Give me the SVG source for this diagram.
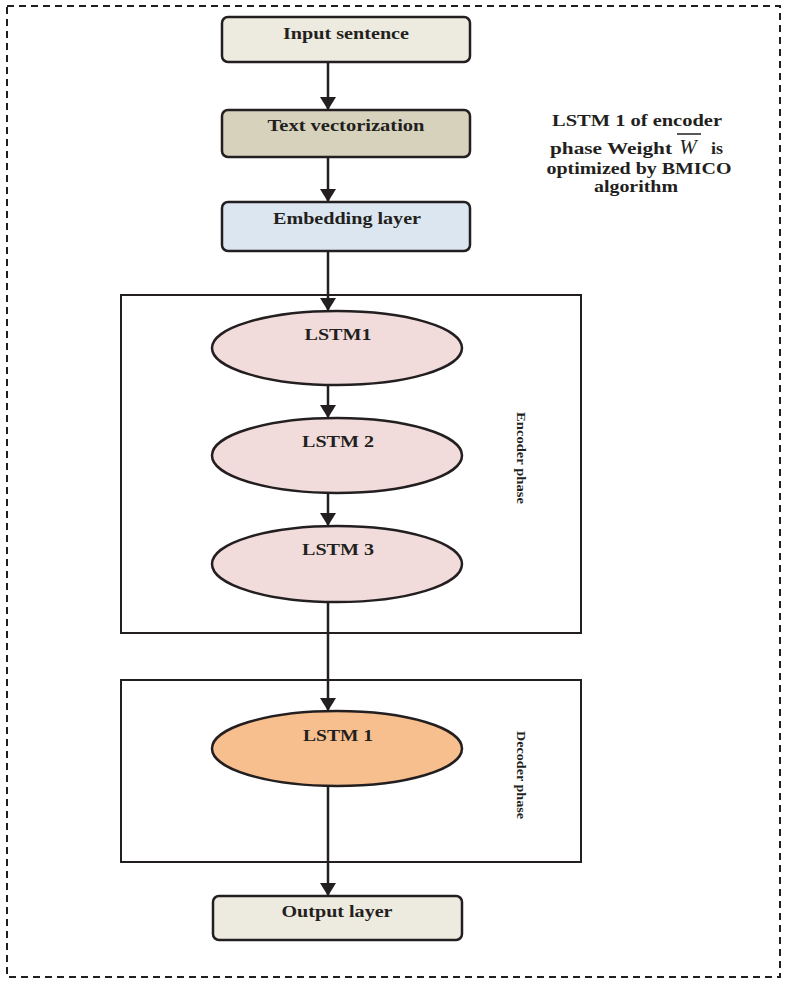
<svg xmlns="http://www.w3.org/2000/svg" width="785" height="983" viewBox="0 0 785 983">
<style>
.t{font-family:"Liberation Serif","Times New Roman",serif;font-weight:bold;font-size:16px;fill:#231f20;text-anchor:middle}
.box{stroke:#231f20;stroke-width:2.5}
.frame{fill:none;stroke:#231f20;stroke-width:2}
.ln{stroke:#231f20;stroke-width:2.5;fill:none}
.rot{font-family:"Liberation Serif","Times New Roman",serif;font-weight:bold;font-size:12px;fill:#231f20}
</style>
<defs>
<marker id="arr" viewBox="0 0 13 16" refX="13" refY="8" markerWidth="13" markerHeight="16" markerUnits="userSpaceOnUse" orient="auto">
<path d="M0,0 L13,8 L0,16 z" fill="#231f20"/>
</marker>
</defs>
<rect x="7" y="6" width="773" height="971" fill="none" stroke="#231f20" stroke-width="2" stroke-dasharray="7,5"/>
<g id="encoder-frame"><rect class="frame" x="121" y="295" width="460" height="338"/><text class="rot" transform="translate(517,412) rotate(90)" textLength="92" lengthAdjust="spacingAndGlyphs">Encoder phase</text></g>
<g id="decoder-frame"><rect class="frame" x="121" y="680" width="460" height="182"/><text class="rot" transform="translate(517,731) rotate(90)" textLength="88" lengthAdjust="spacingAndGlyphs">Decoder phase</text></g>
<g id="connectors">
<line class="ln" x1="328" y1="62" x2="328" y2="110" marker-end="url(#arr)"/>
<line class="ln" x1="328" y1="157" x2="328" y2="202" marker-end="url(#arr)"/>
<line class="ln" x1="328" y1="251" x2="328" y2="311" marker-end="url(#arr)"/>
<line class="ln" x1="328" y1="385" x2="328" y2="418" marker-end="url(#arr)"/>
<line class="ln" x1="328" y1="493" x2="328" y2="526" marker-end="url(#arr)"/>
<line class="ln" x1="328" y1="602" x2="328" y2="711" marker-end="url(#arr)"/>
<line class="ln" x1="328" y1="786" x2="328" y2="896" marker-end="url(#arr)"/>
</g>
<g id="input"><rect class="box" x="222" y="17" width="248" height="45" rx="6" fill="#edeadf"/><text class="t" x="346" y="39" textLength="126" lengthAdjust="spacingAndGlyphs">Input sentence</text></g>
<g id="vectorization"><rect class="box" x="222" y="110" width="248" height="47" rx="6" fill="#d7d2bc"/><text class="t" x="346" y="131" textLength="157" lengthAdjust="spacingAndGlyphs">Text vectorization</text></g>
<g id="embedding"><rect class="box" x="222" y="202" width="248" height="49" rx="6" fill="#dce6f0"/><text class="t" x="347" y="224" textLength="148" lengthAdjust="spacingAndGlyphs">Embedding layer</text></g>
<g id="lstm1"><ellipse class="box" cx="337" cy="348" rx="125" ry="37" fill="#f2dcdb"/><text class="t" x="338" y="340" textLength="67" lengthAdjust="spacingAndGlyphs">LSTM1</text></g>
<g id="lstm2"><ellipse class="box" cx="337" cy="455.5" rx="125" ry="37.5" fill="#f2dcdb"/><text class="t" x="338" y="447" textLength="72" lengthAdjust="spacingAndGlyphs">LSTM 2</text></g>
<g id="lstm3"><ellipse class="box" cx="337" cy="564" rx="125" ry="38" fill="#f2dcdb"/><text class="t" x="338" y="555" textLength="72" lengthAdjust="spacingAndGlyphs">LSTM 3</text></g>
<g id="dec-lstm1"><ellipse class="box" cx="337" cy="748.5" rx="125" ry="37.5" fill="#f8bf8e"/><text class="t" x="338" y="741" textLength="70" lengthAdjust="spacingAndGlyphs">LSTM 1</text></g>
<g id="output"><rect class="box" x="213" y="896" width="249" height="44" rx="6" fill="#edeadf"/><text class="t" x="337" y="917" textLength="111" lengthAdjust="spacingAndGlyphs">Output layer</text></g>
<g id="note">
<text class="t" x="637" y="126" textLength="170" lengthAdjust="spacingAndGlyphs">LSTM 1 of encoder</text>
<text class="t" x="611" y="154" textLength="122" lengthAdjust="spacingAndGlyphs">phase Weight</text>
<text x="688" y="154" font-family="Liberation Serif,serif" font-style="italic" font-size="21" fill="#231f20" text-anchor="middle">W</text>
<line x1="677" y1="134" x2="701" y2="134" stroke="#231f20" stroke-width="1.5"/>
<text class="t" x="717" y="154" textLength="12" lengthAdjust="spacingAndGlyphs">is</text>
<text class="t" x="639" y="174" textLength="185" lengthAdjust="spacingAndGlyphs">optimized by BMICO</text>
<text class="t" x="636" y="192" textLength="84" lengthAdjust="spacingAndGlyphs">algorithm</text>
</g>
</svg>
